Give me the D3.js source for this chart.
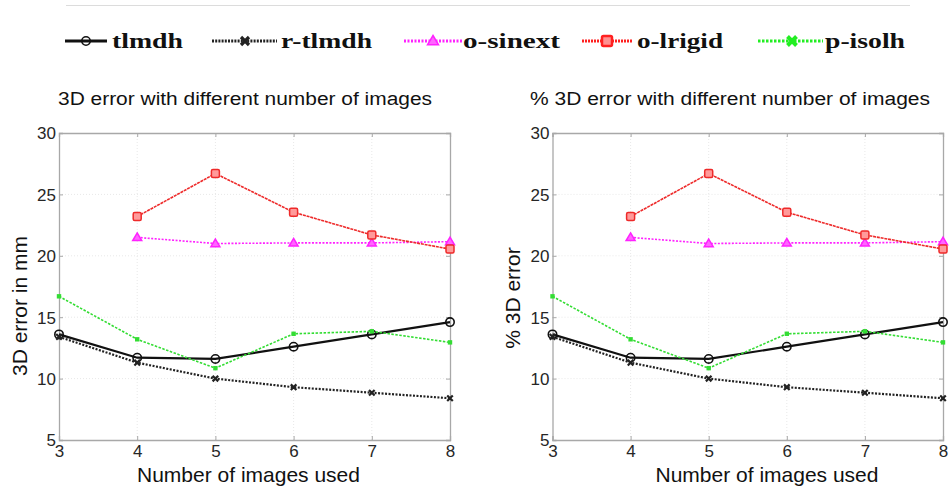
<!DOCTYPE html>
<html><head><meta charset="utf-8">
<script src="https://cdn.jsdelivr.net/npm/d3@7"></script>
<style>body{margin:0;background:#fff}svg{display:block}</style>
</head><body>
<svg id="chart" width="950" height="491"></svg>
<script>
// ---- data ----
const xValues = [3, 4, 5, 6, 7, 8];
const xTicks = [3, 4, 5, 6, 7, 8];
const yTicks = [5, 10, 15, 20, 25, 30];
const tlmdh  = [13.6, 11.7, 11.6, 12.6, 13.6, 14.6];
const rTlmdh = [13.4, 11.3, 10.0, 9.3, 8.85, 8.4];
const oSinext = [null, 21.5, 21.0, 21.05, 21.05, 21.15];
const oLrigid = [null, 23.2, 26.7, 23.55, 21.7, 20.55];
const pIsolh = [16.7, 13.2, 10.85, 13.65, 13.85, 12.95];
const seriesNames = ["tlmdh", "r-tlmdh", "o-sinext", "o-lrigid", "p-isolh"];
const panelTitles = ["3D error with different number of images", "% 3D error with different number of images"];
const yLabels = ["3D error in mm", "% 3D error"];
const xLabel = "Number of images used";

const seriesValues = [tlmdh, rTlmdh, oSinext, oLrigid, pIsolh];
const styles = [
  {color: "#111", width: 2.2, dash: null, marker: "circle"},
  {color: "#222", width: 2.2, dash: "2,1.5", marker: "cross"},
  {color: "#ff22ff", width: 1.6, dash: "2,1.5", marker: "triangle"},
  {color: "#ee2a2a", width: 1.6, dash: "3,0.8", marker: "square"},
  {color: "#33dd33", width: 1.6, dash: "2.5,1.5", marker: "dot"}
];

const svg = d3.select("#chart");

function drawMarker(g, type, x, y, color, legend) {
  if (type === "circle") {
    g.append("circle").attr("cx", x).attr("cy", y).attr("r", 4.2)
      .attr("fill", "none").attr("stroke", color).attr("stroke-width", 1.6);
  } else if (type === "cross") {
    const s = legend ? 4 : 2.8;
    g.append("path").attr("d", `M${x-s},${y-s}L${x+s},${y+s}M${x-s},${y+s}L${x+s},${y-s}`)
      .attr("stroke", color).attr("stroke-width", legend ? 3.2 : 2.2);
  } else if (type === "triangle") {
    const s = legend ? 5.5 : 4.5;
    g.append("path").attr("d", `M${x},${y-s}L${x+s},${y+s*0.7}L${x-s},${y+s*0.7}Z`)
      .attr("fill", "#ff66ff").attr("stroke", color).attr("stroke-width", 1.5);
  } else if (type === "square") {
    const s = legend ? 5 : 4;
    g.append("rect").attr("x", x-s).attr("y", y-s).attr("width", 2*s).attr("height", 2*s)
      .attr("rx", 1.5).attr("fill", legend ? "#ff9090" : "#ff9a9a").attr("stroke", color).attr("stroke-width", legend ? 2.5 : 1.5);
  } else if (type === "dot") {
    if (legend) {
      const s = 4.5;
      g.append("path").attr("d", `M${x-s},${y-s}L${x+s},${y+s}M${x-s},${y+s}L${x+s},${y-s}`)
        .attr("stroke", "#22ee22").attr("stroke-width", 4);
    } else {
      g.append("rect").attr("x", x-2.2).attr("y", y-2.2).attr("width", 4.4).attr("height", 4.4)
        .attr("fill", color);
    }
  }
}

// ---- legend ----
svg.append("line").attr("x1", 66).attr("x2", 910).attr("y1", 5.5).attr("y2", 5.5)
  .attr("stroke", "#dcdcdc").attr("stroke-width", 1);
const legendItems = [
  {x1: 65, x2: 107, m: 86, tx: 112, tw: 71},
  {x1: 212, x2: 277, m: 245, tx: 281, tw: 91},
  {x1: 404, x2: 462, m: 433, tx: 463, tw: 97},
  {x1: 582, x2: 632, m: 607, tx: 637, tw: 86},
  {x1: 758, x2: 823, m: 792, tx: 825, tw: 80}
];
const legendColors = ["#111", "#222", "#ff22ff", "#ff2020", "#22ee22"];
const legendDash = [null, "2,1.2", "2,1.5", "2,1", "2.5,1.5"];
legendItems.forEach((it, i) => {
  const g = svg.append("g");
  g.append("line").attr("x1", it.x1).attr("x2", it.x2).attr("y1", 41).attr("y2", 41)
    .attr("stroke", legendColors[i]).attr("stroke-width", 3)
    .attr("stroke-dasharray", legendDash[i]);
  drawMarker(g, styles[i].marker, it.m, 41, legendColors[i], true);
  g.append("text").attr("x", it.tx).attr("y", 47.5)
    .attr("font-family", "'Liberation Serif', 'DejaVu Serif', serif").attr("font-weight", "bold")
    .attr("font-size", 21).attr("fill", "#111")
    .attr("textLength", it.tw).attr("lengthAdjust", "spacingAndGlyphs")
    .text(seriesNames[i]);
});

// ---- panels ----
const panels = [
  {x0: 59, x1: 450, titleX: 58, titleW: 374, ylx: 20, yly: 306, xlx: 248.5},
  {x0: 552.5, x1: 943, titleX: 530, titleW: 400, ylx: 513, yly: 298, xlx: 767}
];
const yTop = 133, yBot = 440;

panels.forEach((p, pi) => {
  const x = d3.scaleLinear().domain([3, 8]).range([p.x0, p.x1]);
  const y = d3.scaleLinear().domain([5, 30]).range([yBot, yTop]);
  const g = svg.append("g");

  // grid
  g.append("g").selectAll("line").data(xTicks.slice(1, -1)).join("line")
    .attr("x1", d => x(d)).attr("x2", d => x(d)).attr("y1", yTop).attr("y2", yBot)
    .attr("stroke", "#e8e8e8").attr("stroke-width", 1).attr("stroke-dasharray", "1,2");
  g.append("g").selectAll("line").data(yTicks.slice(1, -1)).join("line")
    .attr("x1", p.x0).attr("x2", p.x1).attr("y1", d => y(d)).attr("y2", d => y(d))
    .attr("stroke", "#e8e8e8").attr("stroke-width", 1).attr("stroke-dasharray", "1,2");

  // axes (d3 axes, inward ticks)
  const xAxis = g.append("g").attr("transform", `translate(0,${yBot})`)
    .call(d3.axisBottom(x).tickValues(xTicks).tickSize(-4).tickPadding(8).tickFormat(d3.format("d")));
  const xAxisTop = g.append("g").attr("transform", `translate(0,${yTop})`)
    .call(d3.axisTop(x).tickValues(xTicks).tickSize(-4).tickFormat(""));
  const yAxis = g.append("g").attr("transform", `translate(${p.x0},0)`)
    .call(d3.axisLeft(y).tickValues(yTicks).tickSize(-4).tickPadding(3).tickFormat(d3.format("d")));
  const yAxisR = g.append("g").attr("transform", `translate(${p.x1},0)`)
    .call(d3.axisRight(y).tickValues(yTicks).tickSize(-4).tickFormat(""));
  [xAxis, xAxisTop, yAxis, yAxisR].forEach(a => {
    a.select(".domain").attr("stroke", "#a8a8a8").attr("stroke-width", 1.3);
    a.selectAll(".tick line").attr("stroke", "#a8a8a8");
    a.selectAll("text").attr("font-family", "'Liberation Sans', Arial, sans-serif")
      .attr("font-size", 17).attr("fill", "#262626");
  });
  xAxis.selectAll("text").attr("dy", "0.5em");
  yAxis.selectAll("text").attr("dy", "0.35em");

  // series
  seriesValues.forEach((vals, si) => {
    const st = styles[si];
    const pts = vals.map((v, i) => ({x: xValues[i], v})).filter(d => d.v !== null);
    const line = d3.line().x(d => x(d.x)).y(d => y(d.v));
    g.append("path").datum(pts).attr("d", line).attr("fill", "none")
      .attr("stroke", st.color).attr("stroke-width", st.width)
      .attr("stroke-dasharray", st.dash);
    const mg = g.append("g");
    pts.forEach(d => drawMarker(mg, st.marker, x(d.x), y(d.v), st.color, false));
  });

  // titles and labels
  g.append("text").attr("x", p.titleX).attr("y", 105)
    .attr("font-family", "'Liberation Sans', Arial, sans-serif").attr("font-size", 18)
    .attr("fill", "#111").attr("textLength", p.titleW).attr("lengthAdjust", "spacingAndGlyphs")
    .text(panelTitles[pi]);
  g.append("text").attr("x", p.xlx).attr("y", 482).attr("text-anchor", "middle")
    .attr("font-family", "'Liberation Sans', Arial, sans-serif").attr("font-size", 21)
    .attr("fill", "#111").text(xLabel);
  g.append("text").attr("transform", `translate(${p.ylx + 7},${p.yly}) rotate(-90)`)
    .attr("text-anchor", "middle")
    .attr("font-family", "'Liberation Sans', Arial, sans-serif").attr("font-size", 21)
    .attr("fill", "#111").text(yLabels[pi]);
});
</script>
</body></html>
